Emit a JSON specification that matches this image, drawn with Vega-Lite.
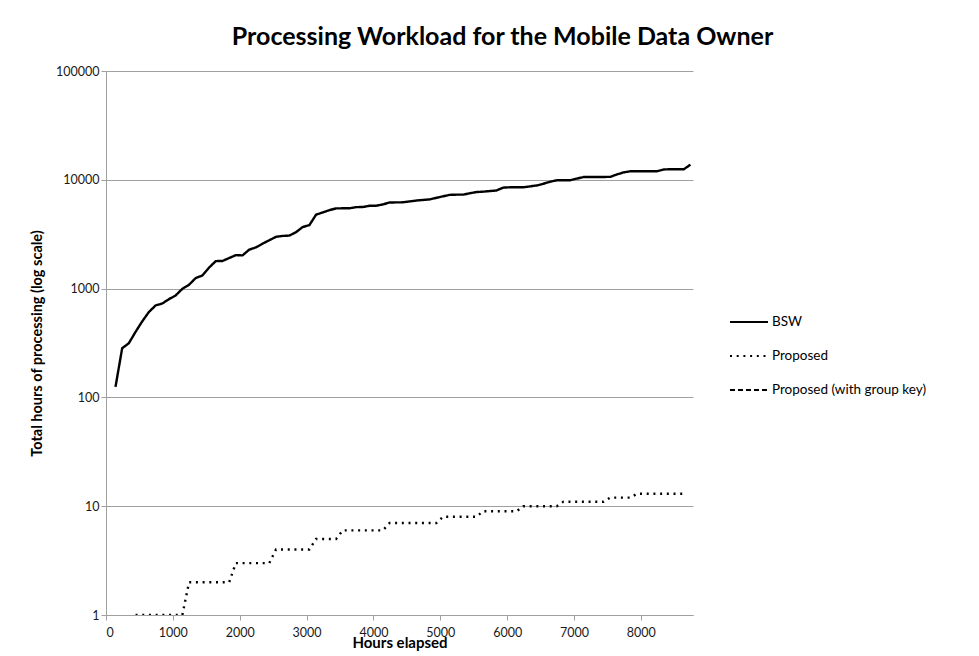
{
  "$schema": "https://vega.github.io/schema/vega-lite/v6.json",
  "width": 587,
  "height": 544,
  "autosize": {"type": "none"},
  "padding": {"left": 106, "top": 71, "right": 286, "bottom": 41},
  "background": "white",
  "title": {
    "text": "Processing Workload for the Mobile Data Owner",
    "font": "Lato",
    "fontSize": 25,
    "fontWeight": "bold",
    "color": "#000000",
    "anchor": "middle",
    "frame": "group",
    "baseline": "alphabetic",
    "dx": 103,
    "dy": 29,
    "offset": 24
  },
  "config": {
    "view": {"stroke": null},
    "font": "Lato"
  },
  "data": {
    "values": [
      {"h": 142, "v": 125, "s": "BSW"},
      {"h": 242, "v": 283, "s": "BSW"},
      {"h": 342, "v": 315, "s": "BSW"},
      {"h": 442, "v": 400, "s": "BSW"},
      {"h": 542, "v": 500, "s": "BSW"},
      {"h": 642, "v": 610, "s": "BSW"},
      {"h": 742, "v": 700, "s": "BSW"},
      {"h": 842, "v": 730, "s": "BSW"},
      {"h": 942, "v": 800, "s": "BSW"},
      {"h": 1042, "v": 865, "s": "BSW"},
      {"h": 1142, "v": 995, "s": "BSW"},
      {"h": 1242, "v": 1085, "s": "BSW"},
      {"h": 1342, "v": 1250, "s": "BSW"},
      {"h": 1442, "v": 1320, "s": "BSW"},
      {"h": 1542, "v": 1560, "s": "BSW"},
      {"h": 1642, "v": 1790, "s": "BSW"},
      {"h": 1742, "v": 1794, "s": "BSW"},
      {"h": 1842, "v": 1910, "s": "BSW"},
      {"h": 1942, "v": 2030, "s": "BSW"},
      {"h": 2042, "v": 2020, "s": "BSW"},
      {"h": 2142, "v": 2280, "s": "BSW"},
      {"h": 2242, "v": 2390, "s": "BSW"},
      {"h": 2342, "v": 2590, "s": "BSW"},
      {"h": 2442, "v": 2780, "s": "BSW"},
      {"h": 2542, "v": 2990, "s": "BSW"},
      {"h": 2642, "v": 3050, "s": "BSW"},
      {"h": 2742, "v": 3070, "s": "BSW"},
      {"h": 2842, "v": 3300, "s": "BSW"},
      {"h": 2942, "v": 3680, "s": "BSW"},
      {"h": 3042, "v": 3830, "s": "BSW"},
      {"h": 3142, "v": 4780, "s": "BSW"},
      {"h": 3242, "v": 5010, "s": "BSW"},
      {"h": 3342, "v": 5260, "s": "BSW"},
      {"h": 3442, "v": 5460, "s": "BSW"},
      {"h": 3542, "v": 5470, "s": "BSW"},
      {"h": 3642, "v": 5470, "s": "BSW"},
      {"h": 3742, "v": 5610, "s": "BSW"},
      {"h": 3842, "v": 5620, "s": "BSW"},
      {"h": 3942, "v": 5770, "s": "BSW"},
      {"h": 4042, "v": 5780, "s": "BSW"},
      {"h": 4142, "v": 5940, "s": "BSW"},
      {"h": 4242, "v": 6180, "s": "BSW"},
      {"h": 4342, "v": 6200, "s": "BSW"},
      {"h": 4442, "v": 6210, "s": "BSW"},
      {"h": 4542, "v": 6330, "s": "BSW"},
      {"h": 4642, "v": 6450, "s": "BSW"},
      {"h": 4742, "v": 6530, "s": "BSW"},
      {"h": 4842, "v": 6600, "s": "BSW"},
      {"h": 4942, "v": 6830, "s": "BSW"},
      {"h": 5042, "v": 7050, "s": "BSW"},
      {"h": 5142, "v": 7270, "s": "BSW"},
      {"h": 5242, "v": 7300, "s": "BSW"},
      {"h": 5342, "v": 7300, "s": "BSW"},
      {"h": 5442, "v": 7520, "s": "BSW"},
      {"h": 5542, "v": 7720, "s": "BSW"},
      {"h": 5642, "v": 7780, "s": "BSW"},
      {"h": 5742, "v": 7880, "s": "BSW"},
      {"h": 5842, "v": 7980, "s": "BSW"},
      {"h": 5942, "v": 8480, "s": "BSW"},
      {"h": 6042, "v": 8530, "s": "BSW"},
      {"h": 6142, "v": 8530, "s": "BSW"},
      {"h": 6242, "v": 8530, "s": "BSW"},
      {"h": 6342, "v": 8700, "s": "BSW"},
      {"h": 6442, "v": 8870, "s": "BSW"},
      {"h": 6542, "v": 9200, "s": "BSW"},
      {"h": 6642, "v": 9600, "s": "BSW"},
      {"h": 6742, "v": 9890, "s": "BSW"},
      {"h": 6842, "v": 9890, "s": "BSW"},
      {"h": 6942, "v": 9890, "s": "BSW"},
      {"h": 7042, "v": 10250, "s": "BSW"},
      {"h": 7142, "v": 10600, "s": "BSW"},
      {"h": 7242, "v": 10620, "s": "BSW"},
      {"h": 7342, "v": 10620, "s": "BSW"},
      {"h": 7442, "v": 10620, "s": "BSW"},
      {"h": 7542, "v": 10640, "s": "BSW"},
      {"h": 7642, "v": 11200, "s": "BSW"},
      {"h": 7742, "v": 11700, "s": "BSW"},
      {"h": 7842, "v": 11970, "s": "BSW"},
      {"h": 7942, "v": 11970, "s": "BSW"},
      {"h": 8042, "v": 11970, "s": "BSW"},
      {"h": 8142, "v": 11970, "s": "BSW"},
      {"h": 8242, "v": 11980, "s": "BSW"},
      {"h": 8342, "v": 12450, "s": "BSW"},
      {"h": 8442, "v": 12500, "s": "BSW"},
      {"h": 8542, "v": 12500, "s": "BSW"},
      {"h": 8642, "v": 12500, "s": "BSW"},
      {"h": 8742, "v": 13770, "s": "BSW"},
      {"h": 442, "v": 1, "s": "Proposed"},
      {"h": 542, "v": 1, "s": "Proposed"},
      {"h": 642, "v": 1, "s": "Proposed"},
      {"h": 742, "v": 1, "s": "Proposed"},
      {"h": 842, "v": 1, "s": "Proposed"},
      {"h": 942, "v": 1, "s": "Proposed"},
      {"h": 1042, "v": 1, "s": "Proposed"},
      {"h": 1142, "v": 1, "s": "Proposed"},
      {"h": 1242, "v": 2, "s": "Proposed"},
      {"h": 1342, "v": 2, "s": "Proposed"},
      {"h": 1442, "v": 2, "s": "Proposed"},
      {"h": 1542, "v": 2, "s": "Proposed"},
      {"h": 1642, "v": 2, "s": "Proposed"},
      {"h": 1742, "v": 2, "s": "Proposed"},
      {"h": 1842, "v": 2, "s": "Proposed"},
      {"h": 1942, "v": 3, "s": "Proposed"},
      {"h": 2042, "v": 3, "s": "Proposed"},
      {"h": 2142, "v": 3, "s": "Proposed"},
      {"h": 2242, "v": 3, "s": "Proposed"},
      {"h": 2342, "v": 3, "s": "Proposed"},
      {"h": 2442, "v": 3, "s": "Proposed"},
      {"h": 2542, "v": 4, "s": "Proposed"},
      {"h": 2642, "v": 4, "s": "Proposed"},
      {"h": 2742, "v": 4, "s": "Proposed"},
      {"h": 2842, "v": 4, "s": "Proposed"},
      {"h": 2942, "v": 4, "s": "Proposed"},
      {"h": 3042, "v": 4, "s": "Proposed"},
      {"h": 3142, "v": 5, "s": "Proposed"},
      {"h": 3242, "v": 5, "s": "Proposed"},
      {"h": 3342, "v": 5, "s": "Proposed"},
      {"h": 3442, "v": 5, "s": "Proposed"},
      {"h": 3542, "v": 6, "s": "Proposed"},
      {"h": 3642, "v": 6, "s": "Proposed"},
      {"h": 3742, "v": 6, "s": "Proposed"},
      {"h": 3842, "v": 6, "s": "Proposed"},
      {"h": 3942, "v": 6, "s": "Proposed"},
      {"h": 4042, "v": 6, "s": "Proposed"},
      {"h": 4142, "v": 6, "s": "Proposed"},
      {"h": 4242, "v": 7, "s": "Proposed"},
      {"h": 4342, "v": 7, "s": "Proposed"},
      {"h": 4442, "v": 7, "s": "Proposed"},
      {"h": 4542, "v": 7, "s": "Proposed"},
      {"h": 4642, "v": 7, "s": "Proposed"},
      {"h": 4742, "v": 7, "s": "Proposed"},
      {"h": 4842, "v": 7, "s": "Proposed"},
      {"h": 4942, "v": 7, "s": "Proposed"},
      {"h": 5042, "v": 8, "s": "Proposed"},
      {"h": 5142, "v": 8, "s": "Proposed"},
      {"h": 5242, "v": 8, "s": "Proposed"},
      {"h": 5342, "v": 8, "s": "Proposed"},
      {"h": 5442, "v": 8, "s": "Proposed"},
      {"h": 5542, "v": 8, "s": "Proposed"},
      {"h": 5642, "v": 9, "s": "Proposed"},
      {"h": 5742, "v": 9, "s": "Proposed"},
      {"h": 5842, "v": 9, "s": "Proposed"},
      {"h": 5942, "v": 9, "s": "Proposed"},
      {"h": 6042, "v": 9, "s": "Proposed"},
      {"h": 6142, "v": 9, "s": "Proposed"},
      {"h": 6242, "v": 10, "s": "Proposed"},
      {"h": 6342, "v": 10, "s": "Proposed"},
      {"h": 6442, "v": 10, "s": "Proposed"},
      {"h": 6542, "v": 10, "s": "Proposed"},
      {"h": 6642, "v": 10, "s": "Proposed"},
      {"h": 6742, "v": 10, "s": "Proposed"},
      {"h": 6842, "v": 11, "s": "Proposed"},
      {"h": 6942, "v": 11, "s": "Proposed"},
      {"h": 7042, "v": 11, "s": "Proposed"},
      {"h": 7142, "v": 11, "s": "Proposed"},
      {"h": 7242, "v": 11, "s": "Proposed"},
      {"h": 7342, "v": 11, "s": "Proposed"},
      {"h": 7442, "v": 11, "s": "Proposed"},
      {"h": 7542, "v": 12, "s": "Proposed"},
      {"h": 7642, "v": 12, "s": "Proposed"},
      {"h": 7742, "v": 12, "s": "Proposed"},
      {"h": 7842, "v": 12, "s": "Proposed"},
      {"h": 7942, "v": 13, "s": "Proposed"},
      {"h": 8042, "v": 13, "s": "Proposed"},
      {"h": 8142, "v": 13, "s": "Proposed"},
      {"h": 8242, "v": 13, "s": "Proposed"},
      {"h": 8342, "v": 13, "s": "Proposed"},
      {"h": 8442, "v": 13, "s": "Proposed"},
      {"h": 8542, "v": 13, "s": "Proposed"},
      {"h": 8642, "v": 13, "s": "Proposed"}
    ]
  },
  "mark": {"type": "line", "color": "#000000", "strokeWidth": 2.4, "clip": true},
  "encoding": {
    "x": {
      "field": "h",
      "type": "quantitative",
      "scale": {"domain": [0, 8780], "nice": false, "zero": false},
      "axis": {
        "title": "Hours elapsed",
        "values": [0, 1000, 2000, 3000, 4000, 5000, 6000, 7000, 8000],
        "format": "d",
        "grid": false,
        "domainColor": "#a0a0a0",
        "domainWidth": 1,
        "tickColor": "#a0a0a0",
        "tickSize": 5,
        "labelPadding": 6,
        "labelFont": "Lato",
        "labelFontSize": 12.5,
        "labelColor": "#1a1a1a",
        "titleFont": "Lato",
        "titleFontSize": 15,
        "titleFontWeight": "bold",
        "titleColor": "#000000",
        "titleBaseline": "alphabetic",
        "titleY": 32
      }
    },
    "y": {
      "field": "v",
      "type": "quantitative",
      "scale": {"type": "log", "domain": [1, 100000], "nice": false},
      "axis": {
        "title": "Total hours of processing (log scale)",
        "values": [1, 10, 100, 1000, 10000, 100000],
        "format": "d",
        "grid": true,
        "gridColor": "#a0a0a0",
        "gridWidth": 1,
        "domainColor": "#a0a0a0",
        "domainWidth": 1,
        "tickColor": "#a0a0a0",
        "tickSize": 5,
        "labelPadding": 2,
        "labelFont": "Lato",
        "labelFontSize": 12.5,
        "labelColor": "#1a1a1a",
        "titleFont": "Lato",
        "titleFontSize": 14.5,
        "titleFontWeight": "bold",
        "titleColor": "#000000",
        "titleAngle": -90,
        "titleAlign": "center",
        "titleBaseline": "middle",
        "titleX": -69,
        "titleY": 272
      }
    },
    "strokeDash": {
      "field": "s",
      "type": "nominal",
      "scale": {
        "domain": ["BSW", "Proposed", "Proposed (with group key)"],
        "range": [[1, 0], [2, 4.7], [5, 3]]
      },
      "legend": {
        "title": null,
        "orient": "none",
        "legendX": 623,
        "legendY": 231,
        "padding": 0,
        "symbolType": "stroke",
        "symbolSize": 1444,
        "symbolStrokeWidth": 2,
        "symbolStrokeColor": "#000000",
        "labelFont": "Lato",
        "labelFontSize": 13.5,
        "labelColor": "#000000",
        "labelOffset": 3,
        "rowPadding": 7
      }
    }
  }
}
